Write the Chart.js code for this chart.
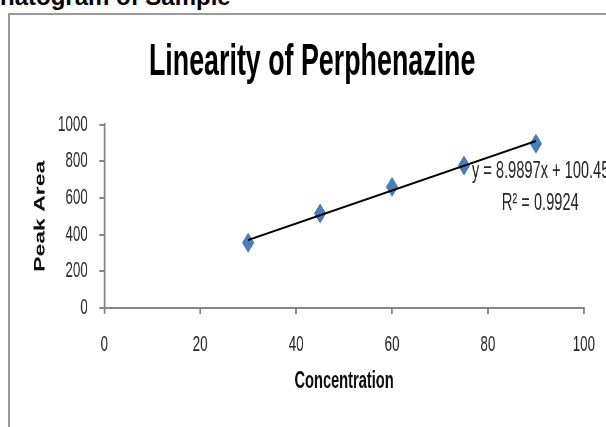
<!DOCTYPE html>
<html>
<head>
<meta charset="utf-8">
<script src="https://cdn.jsdelivr.net/npm/chart.js@4"></script>
<style>
  html, body { margin:0; padding:0; background:#fff; overflow:hidden; }
  body { width:606px; height:427px; position:relative; }
  #caption { position:absolute; left:0; top:-18px; font:bold 24px 'Liberation Sans', Arial, sans-serif; color:#000; white-space:nowrap; line-height:30px; }
  #frame { position:absolute; left:8px; top:13px; width:700px; height:500px; border-left:2px solid #9a9a9a; border-top:2px solid #9a9a9a; }
  #wrap { position:absolute; left:0; top:0; width:994px; height:427px; transform:scaleX(0.6097); transform-origin:0 0; }
  #title { position:absolute; left:15px; top:33px; width:994px; text-align:center; font:bold 44px 'Liberation Sans', Arial, sans-serif; line-height:53px; color:#000; white-space:nowrap; }
  canvas { position:absolute; left:0; top:0; }
</style>
</head>
<body>
<div id="caption">hatogram of Sample</div>
<div id="frame"></div>
<div id="wrap">
  <canvas id="chart" width="994" height="427"></canvas>
  <div id="title"></div>
</div>
<script>
const CHART_TITLE = "Linearity of Perphenazine";
const X_TITLE = "Concentration";
const Y_TITLE = "Peak Area";

const concentration = [30, 45, 60, 75, 90];
const peakArea = [355, 515, 660, 776, 895];

// trendline shown in the chart: y = 8.9897x + 100.45
const trendX = [30, 90];
const trendY = [370.14, 909.52];
const trendLabel = "y = 8.9897x + 100.45";
const r2Label = "R\u00b2 = 0.9924";

const xTicks = [0, 20, 40, 60, 80, 100];
const yTicks = [0, 200, 400, 600, 800, 1000];

const FONT = "'Liberation Sans', Arial, sans-serif";
const AXIS = '#868686';

document.getElementById('title').textContent = CHART_TITLE;

const trendText = {
  id: 'trendText',
  afterDraw(chart){
    const ctx = chart.ctx;
    ctx.save();
    ctx.fillStyle = '#262626';
    ctx.font = '24px ' + FONT;
    ctx.textBaseline = 'alphabetic';
    ctx.textAlign = 'left';
    ctx.fillText(trendLabel, 774, 178);
    ctx.fillText(r2Label, 823, 210);
    ctx.restore();
  }
};

new Chart(document.getElementById('chart').getContext('2d'), {
  type: 'scatter',
  data: {
    datasets: [{
      type: 'line',
      data: trendX.map((x, i) => ({x: x, y: trendY[i]})),
      borderColor: '#000',
      borderWidth: 2,
      pointRadius: 0,
      fill: false,
      order: 0
    }, {
      data: concentration.map((x, i) => ({x: x, y: peakArea[i]})),
      pointStyle: 'rectRot',
      pointRadius: 9.5,
      pointBackgroundColor: '#4a7ebb',
      pointBorderColor: '#4274b0',
      pointBorderWidth: 1,
      showLine: false,
      order: 1
    }]
  },
  options: {
    responsive: false,
    animation: false,
    devicePixelRatio: 1,
    layout: { padding: { top: 124.5, right: 34, left: 0, bottom: 0 } },
    plugins: {
      legend: { display: false },
      tooltip: { enabled: false },
      title: { display: false }
    },
    scales: {
      x: {
        type: 'linear',
        min: 0, max: 100,
        afterBuildTicks: s => { s.ticks = xTicks.map(v => ({value: v})); },
        afterFit: s => { s.height = 119; },
        border: { color: AXIS, width: 2 },
        grid: { display: true, drawOnChartArea: false, color: AXIS, lineWidth: 3, tickLength: 6 },
        ticks: { color: '#262626', font: { family: FONT, size: 22 }, padding: 18, maxRotation: 0,
                 callback: v => String(v) },
        title: { display: true, text: X_TITLE, color: '#0d0d0d',
                 font: { family: FONT, size: 24, weight: 'bold', lineHeight: 1.2 },
                 padding: { top: 0, bottom: 31 } }
      },
      y: {
        min: 0, max: 1000,
        afterBuildTicks: s => { s.ticks = yTicks.map(v => ({value: v})); },
        afterFit: s => { s.width = 171; },
        border: { color: AXIS, width: 3 },
        grid: { display: true, drawOnChartArea: false, color: AXIS, lineWidth: 2, tickLength: 8 },
        ticks: { color: '#262626', font: { family: FONT, size: 22 }, padding: 19,
                 callback: v => String(v) },
        title: { display: true, text: Y_TITLE, color: '#0d0d0d',
                 font: { family: FONT, size: 23, weight: 'bold', lineHeight: 1.2 },
                 padding: { top: 53, bottom: 0 } }
      }
    }
  },
  plugins: [trendText]
});
</script>
</body>
</html>
